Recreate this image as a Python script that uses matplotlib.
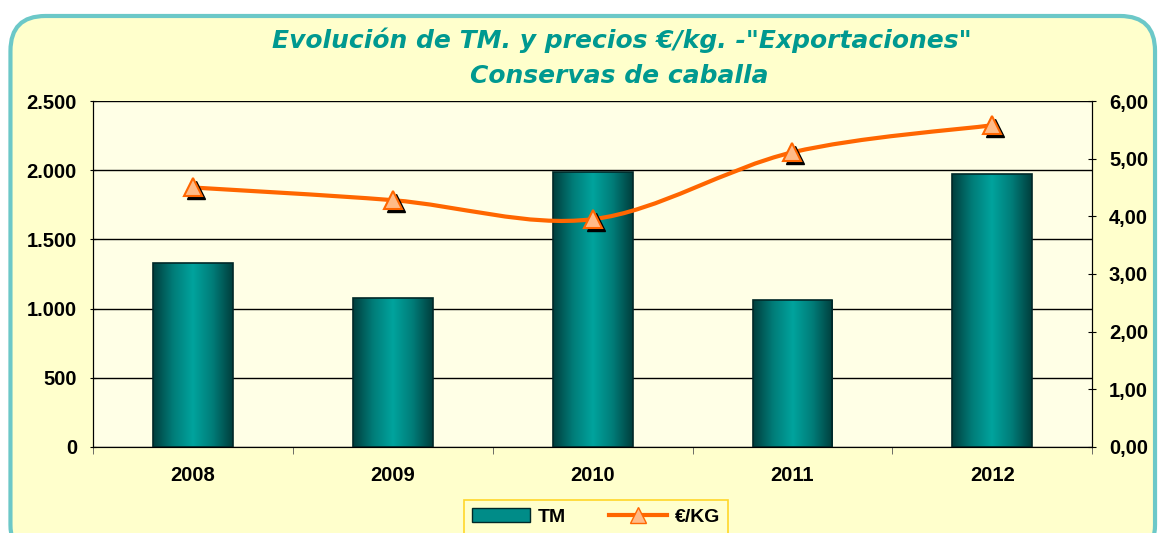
import matplotlib
matplotlib.use("Agg")
import matplotlib.pyplot as plt
import numpy as np
from matplotlib.patches import FancyBboxPatch, PathPatch
from matplotlib.path import Path
from matplotlib.lines import Line2D
from matplotlib.patches import Patch
import matplotlib.transforms as mtransforms

# data
years = ["2008", "2009", "2010", "2011", "2012"]
tm = [1330, 1080, 1990, 1060, 1975]
price = [4.50, 4.28, 3.95, 5.11, 5.58]

left_ticks = [0, 500, 1000, 1500, 2000, 2500]
left_labels = ["0", "500", "1.000", "1.500", "2.000", "2.500"]
right_ticks = [0, 1, 2, 3, 4, 5, 6]
right_labels = ["0,00", "1,00", "2,00", "3,00", "4,00", "5,00", "6,00"]

plt.rcParams['font.family'] = ['Liberation Sans', 'DejaVu Sans']

fig = plt.figure(figsize=(11.62, 5.33), dpi=100)
fig.patch.set_facecolor("white")

# rounded frame around the chart
frame = FancyBboxPatch((0.009, -0.05), 0.985, 1.02, boxstyle="round,pad=0,rounding_size=0.03",
                       transform=fig.transFigure, facecolor="#FFFFCC", edgecolor="#6CC8C8",
                       linewidth=3, zorder=-10, mutation_aspect=1162/533)
fig.patches.append(frame)

ax = fig.add_axes([0.080, 0.1614, 0.860, 0.6491])
ax.set_facecolor("#FFFFE6")
x = np.arange(len(years))

# bars with a horizontal teal gradient
bars = ax.bar(x, tm, width=0.4, color="none", edgecolor="#002828", linewidth=1.2, zorder=3)
grad = np.abs(np.linspace(-1, 1, 256))
grad = grad.reshape(1, -1)
cmap = matplotlib.colors.LinearSegmentedColormap.from_list("tl", ["#00A39D", "#007C78", "#003E3C"])
for b in bars:
    bx, by = b.get_x(), b.get_y()
    bw, bh = b.get_width(), b.get_height()
    im = ax.imshow(grad, extent=[bx, bx + bw, by, by + bh], aspect="auto", cmap=cmap,
                   zorder=2, interpolation="bicubic")
    im.set_clip_path(b)

ax.set_xlim(-0.5, 4.5)
ax.set_ylim(0, 2500)
ax.set_yticks(left_ticks)
ax.set_yticklabels(left_labels, fontsize=14.5, fontweight="bold")
ax.set_xticks(x)
ax.set_xticklabels(years, fontsize=14.5, fontweight="bold")
ax.tick_params(axis="x", length=0, pad=14)
ax.set_xticks(np.arange(-0.5, 5, 1), minor=True)
ax.tick_params(axis="x", which="minor", length=5, direction="out", color="#555555")
ax.tick_params(axis="y", length=5, direction="inout", pad=9)
ax.grid(axis="y", color="black", linewidth=1.0, zorder=1)
ax.set_axisbelow(True)
ax.spines["top"].set_visible(False)
ax.spines["bottom"].set_color("#777777")

# price axis
ax2 = ax.twinx()
ax2.set_ylim(0, 6)
ax2.set_yticks(right_ticks)
ax2.set_yticklabels(right_labels, fontsize=14.5, fontweight="bold")
ax2.tick_params(axis="y", length=6, direction="inout", pad=9)
ax2.spines["top"].set_visible(False)

# smoothed line through the price points (Catmull-Rom as bezier)
pts = np.column_stack([x, price])
verts = [tuple(pts[0])]
codes = [Path.MOVETO]
for i in range(len(pts) - 1):
    p0 = pts[max(i - 1, 0)]
    p1 = pts[i]
    p2 = pts[i + 1]
    p3 = pts[min(i + 2, len(pts) - 1)]
    c1 = p1 + (p2 - p0) / 6
    c2 = p2 - (p3 - p1) / 6
    verts += [tuple(c1), tuple(c2), tuple(p2)]
    codes += [Path.CURVE4] * 3
ax2.add_patch(PathPatch(Path(verts, codes), facecolor="none", edgecolor="#FF6600",
                        linewidth=3, zorder=4))
shadow = mtransforms.offset_copy(ax2.transData, fig=fig, x=3, y=-3, units="dots")
ax2.plot(x, price, linestyle="none", marker="^", markersize=13, color="black",
         transform=shadow, zorder=5)
ax2.plot(x, price, linestyle="none", marker="^", markersize=13, markerfacecolor="#FFBB88",
         markeredgecolor="#FF6600", markeredgewidth=1.5, zorder=6)

# title
fig.text(0.535, 0.925, 'Evolución de TM. y precios €/kg. -"Exportaciones"', ha="center", va="center",
         fontsize=18, fontweight="bold", fontstyle="italic", color="#009990", family="DejaVu Sans")
fig.text(0.533, 0.858, "Conservas de caballa", ha="center", va="center",
         fontsize=18, fontweight="bold", fontstyle="italic", color="#009990", family="DejaVu Sans")

# legend
handles = [Patch(facecolor="#008C88", edgecolor="#002828"),
           Line2D([0], [0], color="#FF6600", lw=3, marker="^", markersize=11,
                  markerfacecolor="#FFBB88", markeredgecolor="#FF6600")]
leg = fig.legend(handles, ["TM", "€/KG"], loc="lower center", bbox_to_anchor=(0.513, -0.012), ncol=2,
                 frameon=True, fancybox=False, edgecolor="#FFCC00", facecolor="#FFFFCC",
                 prop={"weight": "bold", "size": 14}, handlelength=3.0, columnspacing=2.2,
                 borderpad=0.4, handletextpad=0.4, borderaxespad=0.3)
leg.get_frame().set_linewidth(1.2)

fig.savefig("out.png", dpi=100)
